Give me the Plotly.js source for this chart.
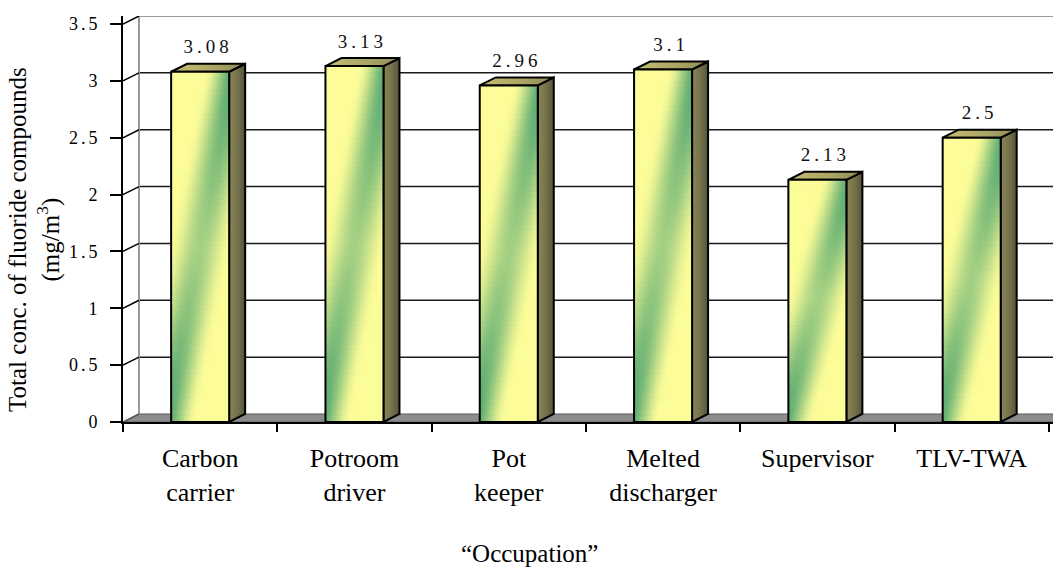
<!DOCTYPE html>
<html>
<head>
<meta charset="utf-8">
<script src="https://cdn.plot.ly/plotly-3.0.1.min.js"></script>
<style>
  html, body { margin: 0; padding: 0; background: #fff; }
  #chart { width: 1053px; height: 572px; }
  .ytick text { letter-spacing: 3px; }
  .textpoint text { letter-spacing: 4px; }
</style>
</head>
<body>
<div id="chart"></div>
<script>
// ---- data ----
const categories = ['Carbon<br>carrier', 'Potroom<br>driver', 'Pot<br>keeper', 'Melted<br>discharger', 'Supervisor', 'TLV-TWA'];
const values = [3.08, 3.13, 2.96, 3.1, 2.13, 2.5];
const valueLabels = ['3.08', '3.13', '2.96', '3.1', '2.13', '2.5'];
const yTicks = [0, 0.5, 1, 1.5, 2, 2.5, 3, 3.5];
const yTickLabels = ['0', '0.5', '1', '1.5', '2', '2.5', '3', '3.5'];
const yTitle = 'Total conc. of fluoride compounds<br>(mg/m<sup>3</sup>)';
const xTitle = '\u201cOccupation\u201d';

// ---- view / style constants ----
const FONT = '"Liberation Serif", "Times New Roman", serif';
const YMAX = 3.5;
const DX = 0.1037;      // depth offset (x units)
const DY = 0.0704;      // depth offset (y units)
const XMIN = -0.5;
const XMAX = 5.527;
const BW = 0.376;       // bar width
const NB = 60;          // gradient bands per bar
const LABEL_PAD = 0.05; // gap between bar top and its label
const YEL = [252, 252, 152];
const GRN = [78, 164, 110];

function mix(a, b, t) {
  const c = a.map((v, i) => Math.round(v + (b[i] - v) * t));
  return 'rgb(' + c.join(',') + ')';
}
function bandScale(p, strength) {
  const cs = [];
  for (let j = 0; j <= 20; j++) {
    const x = j / 20;
    const d = Math.min(1, Math.abs(x - p) / 0.55);
    const a = strength * 0.5 * (1 + Math.cos(Math.PI * d));
    cs.push([x, mix(YEL, GRN, a)]);
  }
  return cs;
}

const traces = [];
const xi = categories.map((c, i) => i);

// floor
traces.push({
  type: 'scatter', mode: 'lines', hoverinfo: 'skip', showlegend: false,
  x: [XMIN, XMIN + DX, XMAX + DX + 1, XMAX + 1, XMIN],
  y: [0, DY, DY, 0, 0],
  fill: 'toself', fillcolor: '#8c8c8c',
  line: {color: '#5a5a5a', width: 1}
});

// back wall gridlines
const gx = [], gy = [];
yTicks.filter(v => v > 0 && v < YMAX).forEach(v => {
  gx.push(XMIN + DX, XMAX + 1, null);
  gy.push(v + DY, v + DY, null);
});
traces.push({type: 'scatter', mode: 'lines', hoverinfo: 'skip', showlegend: false,
  x: gx, y: gy, line: {color: '#1a1a1a', width: 1.5}});

// back wall top and left edges (gray)
traces.push({type: 'scatter', mode: 'lines', hoverinfo: 'skip', showlegend: false,
  x: [XMIN + DX, XMIN + DX, XMAX + 1], y: [DY, YMAX + DY, YMAX + DY],
  line: {color: '#9a9a9a', width: 2}});

// left wall diagonals
const dx = [], dy = [];
yTicks.filter(v => v > 0).forEach(v => {
  dx.push(XMIN, XMIN + DX, null);
  dy.push(v, v + DY, null);
});
traces.push({type: 'scatter', mode: 'lines', hoverinfo: 'skip', showlegend: false,
  x: dx, y: dy, line: {color: '#000', width: 1.5}});
traces.push({type: 'scatter', mode: 'lines', hoverinfo: 'skip', showlegend: false,
  x: [XMIN, XMIN + DX], y: [0, DY], line: {color: '#555', width: 1.5}});

// bars
values.forEach((v, i) => {
  const l = xi[i] - BW / 2, r = xi[i] + BW / 2;
  // side face
  traces.push({type: 'scatter', mode: 'lines', hoverinfo: 'skip', showlegend: false,
    x: [r, r + DX, r + DX, r, r], y: [0, DY, v + DY, v, 0],
    fill: 'toself', fillcolor: '#7a7650',
    fillgradient: {type: 'horizontal', colorscale: [[0, '#8a8658'], [0.5, '#76734c'], [1, '#55533a']]},
    line: {color: '#000', width: 2}});
  // top face
  traces.push({type: 'scatter', mode: 'lines', hoverinfo: 'skip', showlegend: false,
    x: [l, l + DX, r + DX, r, l], y: [v, v + DY, v + DY, v, v],
    fill: 'toself', fillcolor: '#b0ac68',
    fillgradient: {type: 'horizontal', colorscale: [[0, '#c4be74'], [0.6, '#aaa464'], [1, '#8c8a56']]},
    line: {color: '#000', width: 2}});
  // front face gradient bands
  for (let k = 0; k < NB; k++) {
    const t = (k + 0.5) / NB;
    const y0 = v * k / NB;
    const y1 = Math.min(v, v * (k + 1) / NB + v * 0.003);
    const strength = 0.5 + 0.5 * Math.pow(Math.abs(2 * t - 1), 1.2);
    traces.push({type: 'scatter', mode: 'lines', hoverinfo: 'skip', showlegend: false,
      x: [l, r, r, l, l], y: [y0, y0, y1, y1, y0],
      fill: 'toself', fillcolor: mix(YEL, GRN, 0.3),
      fillgradient: {type: 'horizontal', colorscale: bandScale(-0.12 + 1.24 * t, strength)},
      line: {width: 0}});
  }
  // front outline
  traces.push({type: 'scatter', mode: 'lines', hoverinfo: 'skip', showlegend: false,
    x: [l, r, r, l, l], y: [0, 0, v, v, 0],
    line: {color: '#000', width: 2}});
});

// value labels
traces.push({type: 'scatter', mode: 'text', hoverinfo: 'skip', showlegend: false,
  x: xi.map(x => x + DX / 2), y: values.map(v => v + DY + LABEL_PAD),
  text: valueLabels, textposition: 'top center', cliponaxis: false,
  textfont: {family: FONT, size: 19, color: '#111'}});

// invisible trace for tick-mark axis
traces.push({type: 'scatter', mode: 'lines', hoverinfo: 'skip', showlegend: false,
  x: [0, 0], y: [0, 0], xaxis: 'x2', yaxis: 'y', line: {width: 0}});

const boundaries = [];
for (let i = 0; i <= categories.length; i++) boundaries.push(i - 0.5);

const layout = {
  width: 1053, height: 572,
  margin: {l: 123, r: 0, t: 16, b: 150},
  paper_bgcolor: '#fff', plot_bgcolor: '#fff',
  showlegend: false, hovermode: false,
  font: {family: FONT, color: '#000'},
  xaxis: {
    range: [XMIN, XMAX], tickvals: xi, ticktext: categories,
    ticks: '', showgrid: false, zeroline: false,
    showline: true, linecolor: '#000', linewidth: 2,
    tickfont: {family: FONT, size: 26, color: '#000'},
    ticklabelstandoff: 12, fixedrange: true
  },
  xaxis2: {
    overlaying: 'x', anchor: 'y', side: 'bottom',
    range: [XMIN, XMAX], tickvals: boundaries,
    ticks: 'outside', ticklen: 9, tickwidth: 2, tickcolor: '#000',
    showticklabels: false, showgrid: false, zeroline: false, showline: false
  },
  yaxis: {
    range: [0, YMAX + DY], tickvals: yTicks, ticktext: yTickLabels,
    ticks: 'outside', ticklen: 11, tickwidth: 2, tickcolor: '#000',
    showline: true, linecolor: '#000', linewidth: 2,
    showgrid: false, zeroline: false,
    tickfont: {family: FONT, size: 18, color: '#000'},
    ticklabelstandoff: 6, fixedrange: true
  },
  annotations: [
    {text: yTitle, xref: 'paper', yref: 'paper', x: -0.095, y: 0.45,
     xanchor: 'center', yanchor: 'middle', textangle: -90, showarrow: false,
     font: {family: FONT, size: 25, color: '#000'}},
    {text: xTitle, xref: 'paper', yref: 'paper', x: 0.4376, y: -0.325,
     xanchor: 'center', yanchor: 'middle', showarrow: false,
     font: {family: FONT, size: 25, color: '#000'}}
  ]
};

Plotly.newPlot('chart', traces, layout, {displayModeBar: false, staticPlot: true});
</script>
</body>
</html>
